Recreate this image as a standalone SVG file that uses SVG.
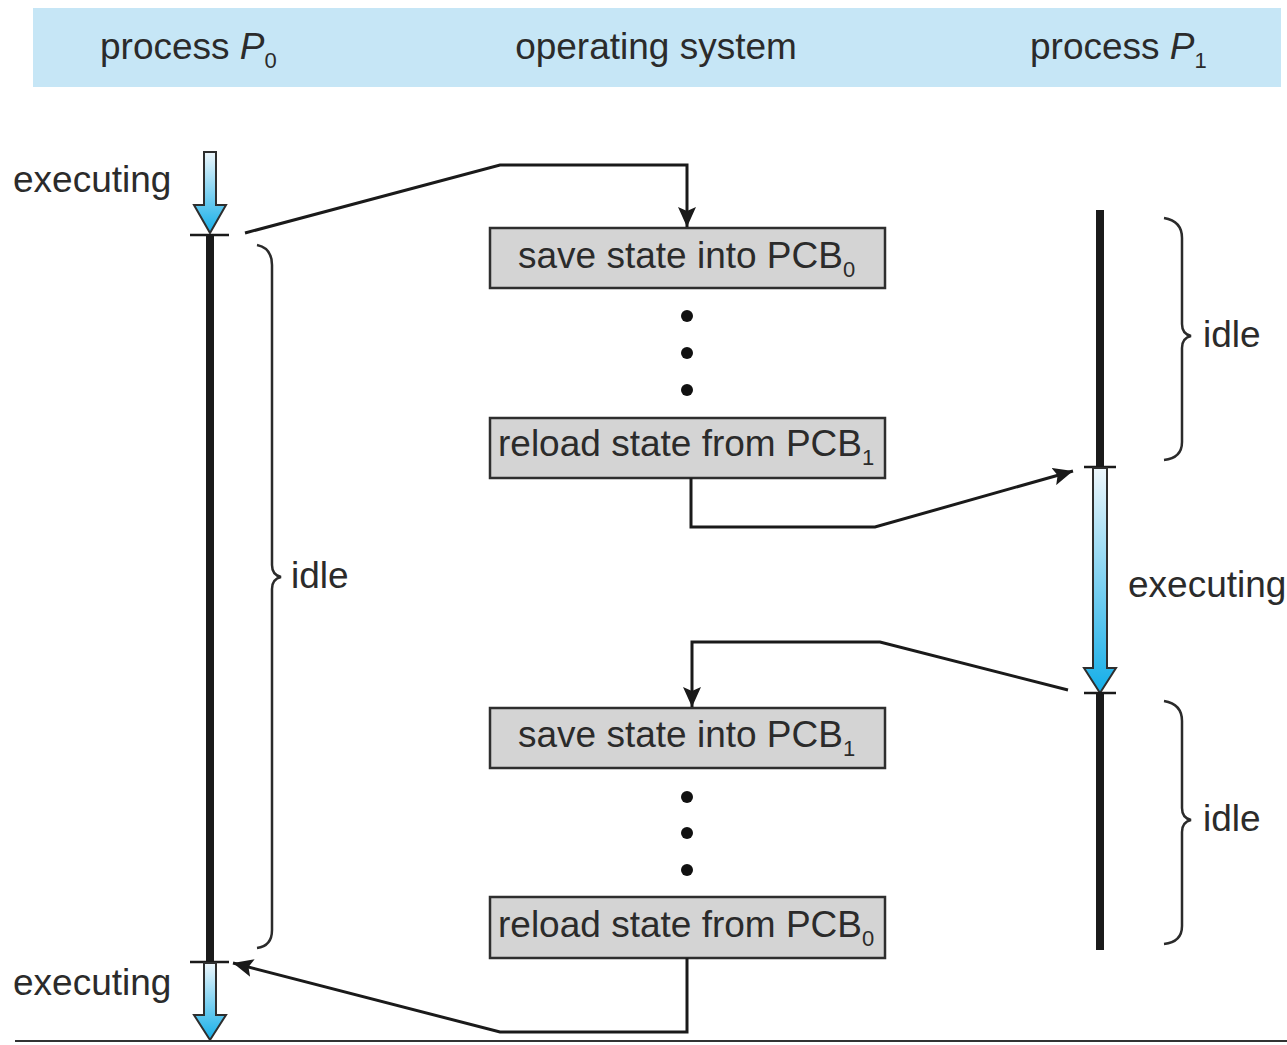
<svg xmlns="http://www.w3.org/2000/svg" width="1287" height="1045" viewBox="0 0 1287 1045">
  <style>
    text { font-family: "Liberation Sans", Arial, sans-serif; fill: #2b2b2b; }
    .lbl { font-size: 37px; }
    .sub { font-size: 22px; }
    .box { fill: #d4d4d4; stroke: #2e2e2e; stroke-width: 2.5; }
    .conn { fill: none; stroke: #1a1a1a; stroke-width: 3; stroke-linejoin: miter; }
    .timeline { stroke: #1a1a1a; stroke-width: 8; }
    .tick { stroke: #1a1a1a; stroke-width: 2.5; }
    .brace { fill: none; stroke: #2b2b2b; stroke-width: 2.5; }
    .exec { fill: url(#execGrad); stroke: #2e2e2e; stroke-width: 2; stroke-linejoin: miter; }
    .dot { fill: #111; }
  </style>
  <defs>
    <linearGradient id="execGrad" x1="0" y1="0" x2="0" y2="1">
      <stop offset="0" stop-color="#eef7fc"/>
      <stop offset="1" stop-color="#14aee8"/>
    </linearGradient>
    <marker id="arrow" markerUnits="userSpaceOnUse" markerWidth="22" markerHeight="18" refX="20" refY="9" orient="auto">
      <path d="M0,0 L20,9 L0,18 L4,9 Z" fill="#1a1a1a"/>
    </marker>
  </defs>

  <!-- header band -->
  <g id="header">
    <rect x="33" y="8" width="1248" height="79" fill="#c6e6f6"/>
    <text class="lbl" x="100" y="59">process <tspan font-style="italic">P</tspan><tspan class="sub" dy="9">0</tspan></text>
    <text class="lbl" x="656" y="59" text-anchor="middle">operating system</text>
    <text class="lbl" x="1030" y="59">process <tspan font-style="italic">P</tspan><tspan class="sub" dy="9">1</tspan></text>
  </g>

  <!-- process P0 timeline -->
  <g id="p0">
    <path class="exec" d="M204,152 H216 V205 H226 L210,233 L194,205 H204 Z"/>
    <line class="tick" x1="190" y1="235" x2="229" y2="235"/>
    <line class="timeline" x1="210" y1="235" x2="210" y2="962"/>
    <line class="tick" x1="190" y1="962" x2="229" y2="962"/>
    <path class="exec" d="M204,963 H216 V1015 H226 L210,1040 L194,1015 H204 Z"/>
    <text class="lbl" x="13" y="192">executing</text>
    <text class="lbl" x="13" y="995">executing</text>
    <path class="brace" d="M257,245 Q272,248 272,265 V565 Q272,575 281,577 Q272,579 272,589 V930 Q272,946 257,948"/>
    <text class="lbl" x="291" y="588">idle</text>
  </g>

  <!-- process P1 timeline -->
  <g id="p1">
    <line class="timeline" x1="1100" y1="210" x2="1100" y2="467"/>
    <line class="tick" x1="1084" y1="467" x2="1116" y2="467"/>
    <path class="exec" d="M1093,468 H1107 V668 H1116 L1100,693 L1084,668 H1093 Z"/>
    <line class="tick" x1="1084" y1="693" x2="1116" y2="693"/>
    <line class="timeline" x1="1100" y1="693" x2="1100" y2="950"/>
    <path class="brace" d="M1164,218 Q1182,221 1182,238 V324 Q1182,334 1191,336 Q1182,338 1182,348 V442 Q1182,458 1164,460"/>
    <text class="lbl" x="1203" y="347">idle</text>
    <text class="lbl" x="1128" y="597">executing</text>
    <path class="brace" d="M1164,701 Q1182,704 1182,721 V808 Q1182,818 1191,820 Q1182,822 1182,832 V926 Q1182,942 1164,944"/>
    <text class="lbl" x="1203" y="831">idle</text>
  </g>

  <!-- operating system steps -->
  <g id="save0">
    <rect class="box" x="490" y="228" width="395" height="60"/>
    <text class="lbl" x="518" y="268">save state into PCB<tspan class="sub" dy="9">0</tspan></text>
  </g>
  <g id="dots1">
    <circle class="dot" cx="687" cy="316" r="6"/>
    <circle class="dot" cx="687" cy="353" r="6"/>
    <circle class="dot" cx="687" cy="390" r="6"/>
  </g>
  <g id="reload1">
    <rect class="box" x="490" y="418" width="395" height="60"/>
    <text class="lbl" x="498" y="456">reload state from PCB<tspan class="sub" dy="9">1</tspan></text>
  </g>
  <g id="save1">
    <rect class="box" x="490" y="708" width="395" height="60"/>
    <text class="lbl" x="518" y="747">save state into PCB<tspan class="sub" dy="9">1</tspan></text>
  </g>
  <g id="dots2">
    <circle class="dot" cx="687" cy="797" r="6"/>
    <circle class="dot" cx="687" cy="833" r="6"/>
    <circle class="dot" cx="687" cy="870" r="6"/>
  </g>
  <g id="reload0">
    <rect class="box" x="490" y="897" width="395" height="61"/>
    <text class="lbl" x="498" y="937">reload state from PCB<tspan class="sub" dy="9">0</tspan></text>
  </g>

  <!-- connectors -->
  <g id="connectors">
    <path class="conn" marker-end="url(#arrow)" d="M245,233 L500,165 H687 V227"/>
    <path class="conn" marker-end="url(#arrow)" d="M691,478 V527 H875 L1073,471"/>
    <path class="conn" marker-end="url(#arrow)" d="M1068,690 L880,642 H692 V707"/>
    <path class="conn" marker-end="url(#arrow)" d="M687,958 V1032 H500 L233,963"/>
    <line x1="15" y1="1041" x2="1287" y2="1041" stroke="#333" stroke-width="2"/>
  </g>
</svg>
